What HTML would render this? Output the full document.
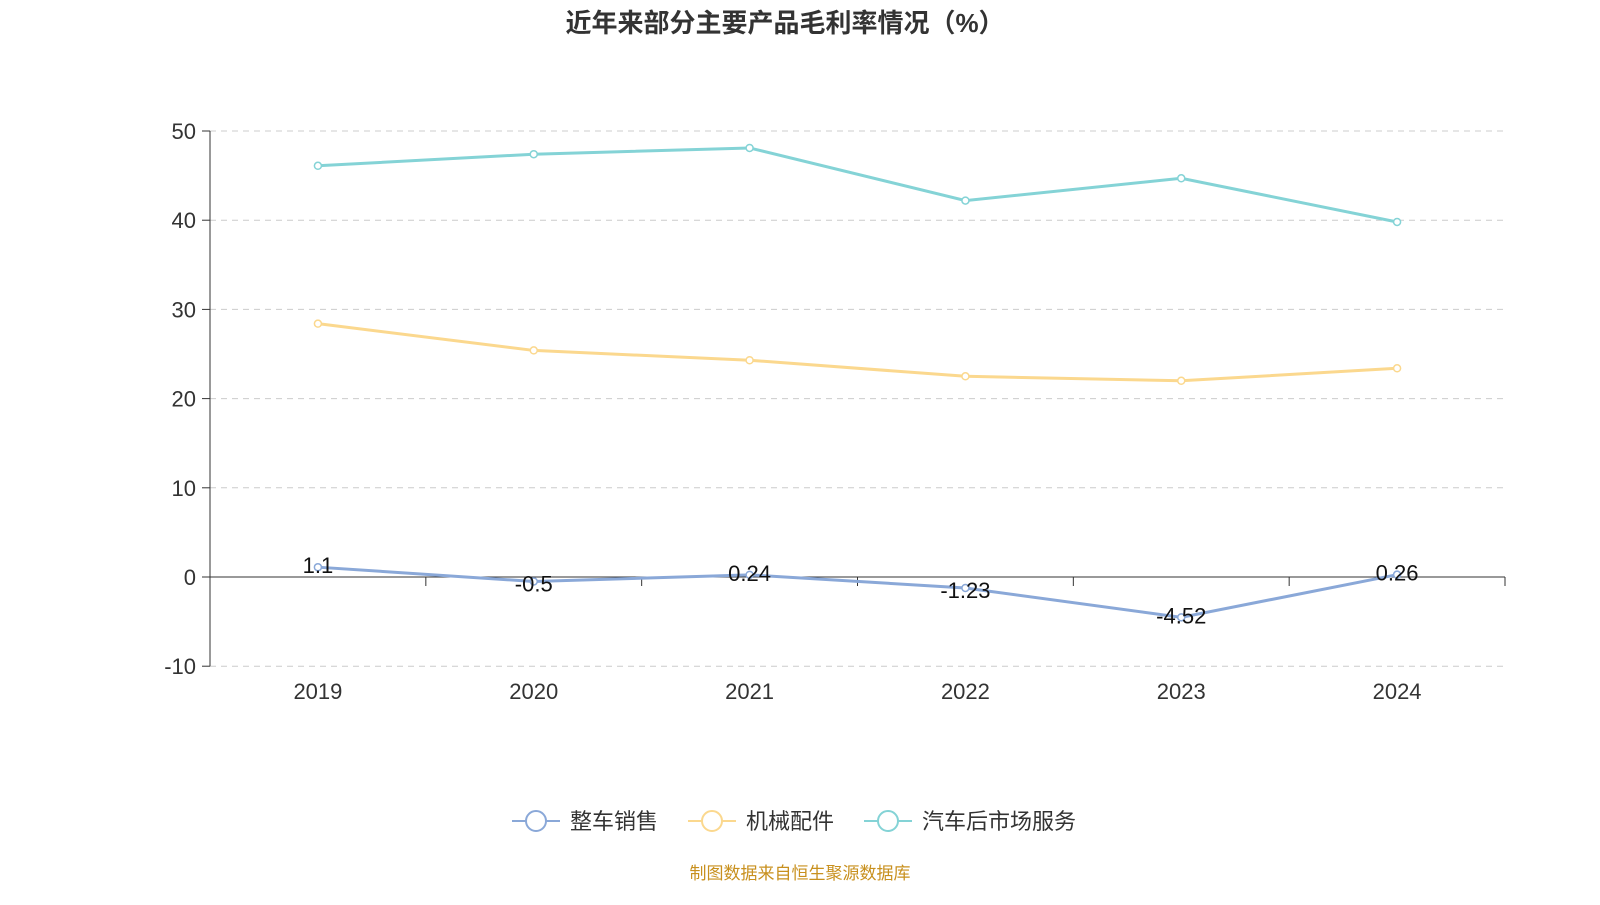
<!DOCTYPE html>
<html><head><meta charset="utf-8">
<style>
html,body{margin:0;padding:0;background:#fff;}
body{width:1600px;height:900px;overflow:hidden;font-family:"Liberation Sans","Noto Sans CJK SC",sans-serif;}
</style></head>
<body>
<svg id="chart" width="1600" height="900" xmlns="http://www.w3.org/2000/svg" font-family="Liberation Sans, Noto Sans CJK SC, sans-serif">
<text x="785" y="32" text-anchor="middle" font-size="26" font-weight="bold" fill="#333">近年来部分主要产品毛利率情况（%）</text>
<g id="grid"></g><g id="axes"></g><g id="series"></g>
<g font-size="22" fill="#333">
 <g>
  <line x1="512" y1="821" x2="560" y2="821" stroke="#8aa8d8" stroke-width="2"/><circle cx="536" cy="821" r="10" fill="#fff" stroke="#8aa8d8" stroke-width="2"/>
  <text x="570" y="829">整车销售</text></g>
 <g>
  <line x1="688" y1="821" x2="736" y2="821" stroke="#fbd88e" stroke-width="2"/><circle cx="712" cy="821" r="10" fill="#fff" stroke="#fbd88e" stroke-width="2"/>
  <text x="746" y="829">机械配件</text></g>
 <g>
  <line x1="864" y1="821" x2="912" y2="821" stroke="#84d3d6" stroke-width="2"/><circle cx="888" cy="821" r="10" fill="#fff" stroke="#84d3d6" stroke-width="2"/>
  <text x="922" y="829">汽车后市场服务</text></g>
</g>
<text x="800" y="879" text-anchor="middle" font-size="17" fill="#c8901e">制图数据来自恒生聚源数据库</text>
</svg>
<script>
const categories=["2019","2020","2021","2022","2023","2024"];
const seriesVehicle=[1.1,-0.5,0.24,-1.23,-4.52,0.26];
const seriesParts=[28.4,25.4,24.3,22.5,22.0,23.4];
const seriesService=[46.1,47.4,48.1,42.2,44.7,39.8];
const yTicks=[-10,0,10,20,30,40,50];
const NS="http://www.w3.org/2000/svg";
const x0=210,x1=1505,yTop=131,yZero=577,unit=(577-131)/50;
const band=(x1-x0)/categories.length;
function xs(i){return x0+band*(i+0.5);}
function ys(v){return yZero-v*unit;}
function mk(tag,attrs,parent){const e=document.createElementNS(NS,tag);for(const k in attrs)e.setAttribute(k,attrs[k]);parent.appendChild(e);return e;}
const grid=document.getElementById('grid'),axes=document.getElementById('axes'),ser=document.getElementById('series');
yTicks.forEach(t=>{
  const y=ys(t);
  if(t!==0){const g=mk('line',{x1:x0,x2:x1,y1:y,y2:y,stroke:'#ccc','stroke-dasharray':'6,5'},grid);
  
  }
  const tk=mk('line',{x1:x0-8,x2:x0,y1:y,y2:y,stroke:'#333'},axes);
  
  
  const lb=mk('text',{x:x0-14,y:y+8,'text-anchor':'end','font-size':22,fill:'#333'},axes);lb.textContent=t;
  
  
});
const ya=mk('line',{x1:x0,x2:x0,y1:yTop,y2:ys(-10),stroke:'#333'},axes);


const xa=mk('line',{x1:x0,x2:x1,y1:yZero,y2:yZero,stroke:'#333'},axes);


for(let i=0;i<=categories.length;i++){const t=mk('line',{x1:x0+band*i,x2:x0+band*i,y1:yZero,y2:yZero+9,stroke:'#333'},axes);

}
categories.forEach((c,i)=>{const l=mk('text',{x:xs(i),y:699,'text-anchor':'middle','font-size':22,fill:'#333'},axes);l.textContent=c;

});
function draw(data,color,name,labels){
  const p=mk('polyline',{points:data.map((v,i)=>xs(i)+','+ys(v)).join(' '),fill:'none',stroke:color,'stroke-width':3},ser);
  
  
  data.forEach((v,i)=>{const c=mk('circle',{cx:xs(i),cy:ys(v),r:3.5,fill:'#fff',stroke:color,'stroke-width':1.5},ser);
    
    
    if(labels){const t=mk('text',{x:xs(i),y:ys(v)+(v<0?(v<-2?6:10):6),'text-anchor':'middle','font-size':22,fill:'#111'},ser);t.textContent=v;
      
      }
  });
}
draw(seriesService,'#84d3d6','service',false);
draw(seriesParts,'#fbd88e','parts',false);
draw(seriesVehicle,'#8aa8d8','vehicle',true);
</script>
</body></html>
